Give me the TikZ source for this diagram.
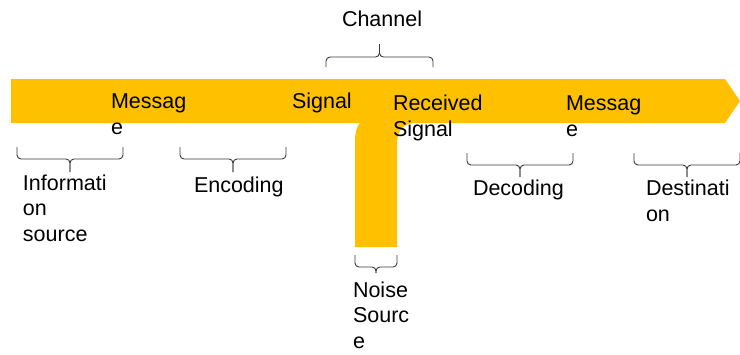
\documentclass[tikz,border=0pt]{standalone}
\usepackage{fontspec}
\setmainfont{Liberation Sans}
\definecolor{bandc}{HTML}{FFC000}
\definecolor{brkc}{HTML}{3A3A3A}
\tikzset{
  lbl/.style={anchor=base west, inner sep=0pt, outer sep=0pt, text=black,
              font=\fontsize{21.5}{25.5}\selectfont, align=left},
  brkline/.style={draw=brkc, line width=0.9pt, rounded corners=4pt},
}
\newcommand\mybrkt[5]{%
  \draw[brkline] (#1,#3) -- (#1,#4) -- ({(#1+#2)/2},#4) -- ({(#1+#2)/2},#5);
  \draw[brkline] (#2,#3) -- (#2,#4) -- ({(#1+#2)/2},#4) -- ({(#1+#2)/2},#5);
}
\begin{document}
\begin{tikzpicture}[x=1pt,y=-1pt]
\useasboundingbox (0,0) rectangle (740,354);
% band
\fill[bandc] (11,79) -- (725,79) -- (740,101) -- (725,123) -- (416,123)
  .. controls (403,123) and (397,131) .. (397,144) -- (397,247) -- (355,247)
  -- (355,142) .. controls (355,132) and (357,126) .. (360,123) -- (11,123) -- cycle;
% labels on band (anchor = baseline of last line)
\node[lbl] (msg1) at (111,134) {Messag\\e};
\node[lbl] (sig) at (292,108) {Signal};
\node[lbl] (rsig) at (393,136) {Received\\Signal};
\node[lbl] (msg2) at (566,136) {Messag\\e};
% labels below
\node[lbl] (info) at (23,241) {Informati\\on\\source};
\node[lbl] (enc) at (194,192) {Encoding};
\node[lbl] (dec) at (473,195) {Decoding};
\node[lbl] (dest) at (646,221) {Destinati\\on};
\node[lbl] (chan) at (342,26) {Channel};
\node[lbl] (noise) at (353,348) {Noise\\Sourc\\e};
% brackets
\mybrkt{17}{123}{147}{159}{172}
\mybrkt{180}{286}{147}{159}{172}
\mybrkt{467}{573}{153}{165}{177}
\mybrkt{634}{740}{153}{165}{177}
\mybrkt{326}{433}{67}{57}{44}
\mybrkt{355}{397}{255}{267}{273}
\end{tikzpicture}
\end{document}
